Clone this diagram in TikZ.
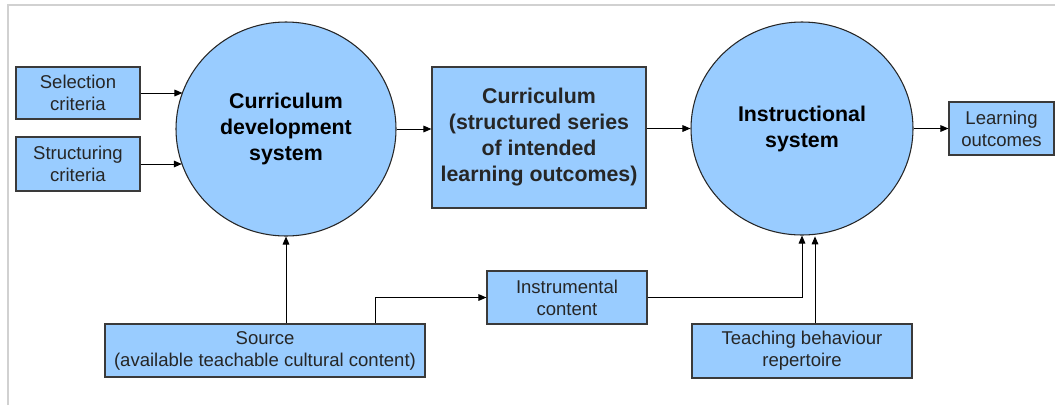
\documentclass[tikz,border=0pt]{standalone}
\usepackage{fontspec}
\setmainfont{Liberation Sans}
\usetikzlibrary{arrows.meta,shapes.geometric}
\definecolor{boxblue}{HTML}{99CCFF}
\definecolor{boxline}{HTML}{3A3A3A}
\tikzset{
	box/.style={draw=boxline, fill=boxblue, line width=0.9pt, inner sep=0pt, align=center,
		text=black!85, font=\fontsize{13.9}{16.5}\selectfont},
	sysnode/.style={ellipse, draw=black!85, fill=boxblue, line width=0.8pt, inner sep=0pt, align=center,
		font=\bfseries\fontsize{16}{19.5}\selectfont},
	arr/.style={-{Triangle[length=6pt,width=5pt]}, line width=0.75pt, black}
}
\begin{document}
\begin{tikzpicture}[x=0.75pt, y=-0.75pt]
			%%%%% FRAME %%%%%
			\useasboundingbox (0, 0) rectangle (1055, 405);
			\draw[line width=1.5pt, color=black!18] (8, 405) -- (8, 5) -- (1055, 5);
			
			%%%%% NODES %%%%%
			\node[box, minimum width=93pt, minimum height=39pt] (sel) at (78, 93) {Selection\\criteria};
			\node[box, minimum width=93pt, minimum height=40.5pt] (str) at (78, 164) {Structuring\\criteria};
			
			\node[sysnode, minimum width=165pt, minimum height=160.5pt] (cds) at (286, 129) {Curriculum\\development\\system};
			\node[box, minimum width=160.5pt, minimum height=105.75pt,
				font=\bfseries\fontsize{16}{19.5}\selectfont] (cur) at (539, 137.5)
				{Curriculum\\(structured series\\of intended\\learning outcomes)};
			\node[sysnode, minimum width=166.5pt, minimum height=159.75pt] (ics) at (802, 128.5) {Instructional\\system};
			\node[box, minimum width=78.75pt, minimum height=39.75pt] (lo) at (1001.5, 128.5) {Learning\\outcomes};
			
			\node[box, minimum width=240pt, minimum height=39.75pt] (src) at (265, 350.5) {Source\\(available teachable cultural content)};
			\node[box, minimum width=120pt, minimum height=39.75pt] (ins) at (567, 297.5) {Instrumental\\content};
			\node[box, minimum width=165pt, minimum height=40.5pt] (tea) at (802, 351) {Teaching behaviour\\repertoire};
			
			%%%%% CONNECTORS %%%%%
			\draw[arr] (sel.east) -- (sel.east -| cds.160);
			\draw[arr] (str.east) -- (str.east -| cds.199);
			\draw[arr] (cds.east) -- (cur.west |- cds.east);
			\draw[arr] (cur.east |- ics.west) -- (ics.west);
			\draw[arr] (ics.east) -- (lo.west);
			
			\draw[arr] (cds.south |- src.north) -- (cds.south);
			\draw[arr] ([xshift=-37.5pt]src.north east) |- (ins.west);
			\draw[arr] (ins.east) -| (ics.south);
			\draw[arr] ([xshift=9.75pt]tea.north) -- ([xshift=9.75pt, yshift=-0.6pt]tea.north |- ics.south);
\end{tikzpicture}
\end{document}
